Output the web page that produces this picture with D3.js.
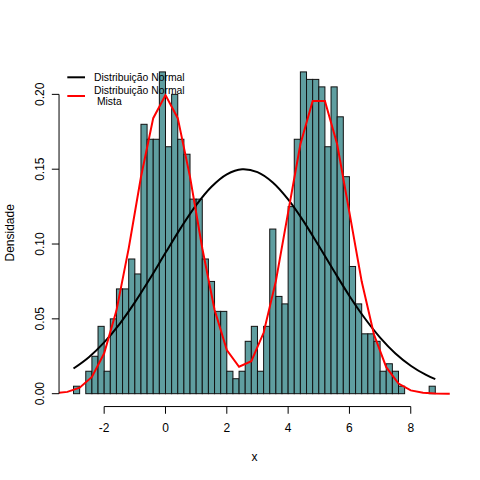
<!DOCTYPE html>
<html>
<head>
<meta charset="utf-8">
<script src="https://cdn.jsdelivr.net/npm/d3@7"></script>
<style>
  body { margin: 0; background: #fff; }
  text { font-family: "Liberation Sans", Arial, sans-serif; fill: #000; }
</style>
</head>
<body>
<svg class="Hist"></svg>
<script>
// histogram: bins of width 0.2 starting at -3.0, density per bin
let binStart = -3.0, binWidth = 0.2;
let density = [0.005, 0, 0.015, 0.025, 0.045, 0.015, 0.05, 0.07, 0.07, 0.09, 0.08,
    0.18, 0.17, 0.17, 0.215, 0.165, 0.20, 0.17, 0.16, 0.13, 0.13,
    0.09, 0.075, 0.055, 0.055, 0.015, 0.01, 0.015, 0.035, 0.045, 0.015,
    0.045, 0.11, 0.065, 0.06, 0.125, 0.17, 0.215, 0.21, 0.21, 0.205,
    0.165, 0.205, 0.185, 0.145, 0.085, 0.06, 0.04, 0.04, 0.035, 0.015,
    0.02, 0.015, 0.005, 0, 0, 0, 0, 0.005];

// black curve (normal)
let normX = [-3.0, -2.5, -2.0, -1.5, -1.0, -0.5, 0.0, 0.5, 1.0, 1.5, 2.0, 2.5, 3.0,
    3.5, 4.0, 4.5, 5.0, 5.5, 6.0, 6.5, 7.0, 7.5, 8.0, 8.5, 8.8];
let normY = [0.0168, 0.0244, 0.0343, 0.0465, 0.0610, 0.0771, 0.0941, 0.1108, 0.1260,
    0.1383, 0.1466, 0.1500, 0.1480, 0.1411, 0.1298, 0.1153, 0.0988, 0.0818, 0.0653,
    0.0504, 0.0375, 0.0269, 0.0187, 0.0125, 0.0097];

// red polyline (mixture)
let mixX = [-3.6, -3.2, -2.8, -2.4, -2.0, -1.6, -1.2, -0.8, -0.4, 0.0, 0.4, 0.8, 1.2,
    1.6, 2.0, 2.4, 2.8, 3.2, 3.6, 4.0, 4.4, 4.8, 5.2, 5.6, 6.0, 6.4, 6.8, 7.2, 7.6,
    8.0, 8.4, 8.8, 9.2, 9.6];
let mixY = [0.0003, 0.0012, 0.0040, 0.0112, 0.0270, 0.0555, 0.0971, 0.1448, 0.1841,
    0.1995, 0.1841, 0.1449, 0.0972, 0.0561, 0.0292, 0.0180, 0.0217, 0.0407, 0.0752,
    0.1211, 0.1666, 0.1955, 0.1955, 0.1666, 0.1210, 0.0749, 0.0395, 0.0177, 0.0068,
    0.0022, 0.0006, 0.0001, 0.0000, 0.0000];

let xTicks = [-2, 0, 2, 4, 6, 8];
let yTicks = [0, 0.05, 0.10, 0.15, 0.20];
let legendLabels = [["Distribuição Normal"], ["Distribuição Normal", " Mista"]];
let legendColors = ["#000000", "#ff0000"];

function drawHist(){
    let width = 480, height = 480;
    let margin = {top: 59.04, right: 30.24, bottom: 73.44, left: 59.04};
    let svg = d3.select(".Hist")
        .attr("width", width)
        .attr("height", height);

    let bins = density.map(function(d, i){
        let x0 = +(binStart + i * binWidth).toFixed(1);
        return {x0: x0, x1: +(x0 + binWidth).toFixed(1), d: d};
    });

    // R style limits: data range padded by 4%
    let xlim = [bins[0].x0, bins[bins.length - 1].x1],
        ylim = [0, d3.max(density)];
    let pad = function(l){ let r = l[1] - l[0]; return [l[0] - 0.04 * r, l[1] + 0.04 * r]; };

    let x = d3.scaleLinear().domain(pad(xlim)).range([margin.left, width - margin.right]);
    let y = d3.scaleLinear().domain(pad(ylim)).range([height - margin.bottom, margin.top]);

    svg.append("clipPath").attr("id", "plotArea")
        .append("rect")
        .attr("x", margin.left)
        .attr("y", margin.top)
        .attr("width", width - margin.left - margin.right)
        .attr("height", height - margin.top - margin.bottom);

    // bars
    svg.append("g").selectAll("rect")
        .data(bins)
        .join("rect")
        .attr("x", d => x(d.x0))
        .attr("y", d => y(d.d))
        .attr("width", d => x(d.x1) - x(d.x0))
        .attr("height", d => y(0) - y(d.d))
        .style("fill", "cadetblue")
        .style("stroke", "#111")
        .style("stroke-width", 1);

    let line = d3.line().x(d => x(d[0])).y(d => y(d[1]));

    svg.append("path")
        .datum(d3.zip(normX, normY))
        .attr("d", line.curve(d3.curveCatmullRom))
        .attr("clip-path", "url(#plotArea)")
        .style("fill", "none")
        .style("stroke", "#000")
        .style("stroke-width", 2);

    svg.append("path")
        .datum(d3.zip(mixX, mixY))
        .attr("d", line.curve(d3.curveLinear))
        .attr("clip-path", "url(#plotArea)")
        .style("fill", "none")
        .style("stroke", "#ff0000")
        .style("stroke-width", 2);

    // axes, drawn by hand to look like base R
    let tick = 7.2;
    let xAxis = svg.append("g").attr("transform", "translate(0," + (height - margin.bottom) + ")");
    xAxis.append("line")
        .attr("x1", x(xTicks[0])).attr("x2", x(xTicks[xTicks.length - 1]))
        .style("stroke", "#000");
    xAxis.selectAll(".tick")
        .data(xTicks)
        .join("line")
        .attr("class", "tick")
        .attr("x1", d => x(d)).attr("x2", d => x(d))
        .attr("y2", tick)
        .style("stroke", "#000");
    xAxis.selectAll("text")
        .data(xTicks)
        .join("text")
        .attr("x", d => x(d))
        .attr("y", 25)
        .attr("text-anchor", "middle")
        .attr("font-size", 12)
        .text(d => d < 0 ? "-" + Math.abs(d) : d);

    let yAxis = svg.append("g").attr("transform", "translate(" + margin.left + ",0)");
    yAxis.append("line")
        .attr("y1", y(yTicks[0])).attr("y2", y(yTicks[yTicks.length - 1]))
        .style("stroke", "#000");
    yAxis.selectAll(".tick")
        .data(yTicks)
        .join("line")
        .attr("class", "tick")
        .attr("y1", d => y(d)).attr("y2", d => y(d))
        .attr("x2", -tick)
        .style("stroke", "#000");
    yAxis.selectAll("text")
        .data(yTicks)
        .join("text")
        .attr("transform", d => "translate(-15," + y(d) + ")rotate(-90)")
        .attr("text-anchor", "middle")
        .attr("font-size", 12)
        .text(d => d3.format(".2f")(d));

    svg.append("text")
        .attr("x", (margin.left + width - margin.right) / 2)
        .attr("y", 461)
        .attr("text-anchor", "middle")
        .attr("font-size", 12)
        .text("x");

    svg.append("text")
        .attr("transform", "translate(13.5," + (margin.top + height - margin.bottom) / 2 + ")rotate(-90)")
        .attr("text-anchor", "middle")
        .attr("font-size", 12)
        .text("Densidade");

    // legend, no box
    let legendY = [77.3, 96];
    let legend = svg.append("g").selectAll("g")
        .data(legendLabels)
        .join("g")
        .attr("transform", (d, i) => "translate(0," + legendY[i] + ")");
    legend.append("line")
        .attr("x1", 67.3).attr("x2", 85)
        .style("stroke", (d, i) => legendColors[i])
        .style("stroke-width", 2);
    legend.each(function(lines){
        let n = lines.length;
        d3.select(this).selectAll("text")
            .data(lines)
            .join("text")
            .attr("x", 94)
            .attr("y", (d, j) => 3.7 + (j - (n - 1) / 2) * 11.3)
            .attr("font-size", 10.4)
            .style("white-space", "pre")
            .text(d => d);
    });
}

drawHist();
</script>
</body>
</html>
